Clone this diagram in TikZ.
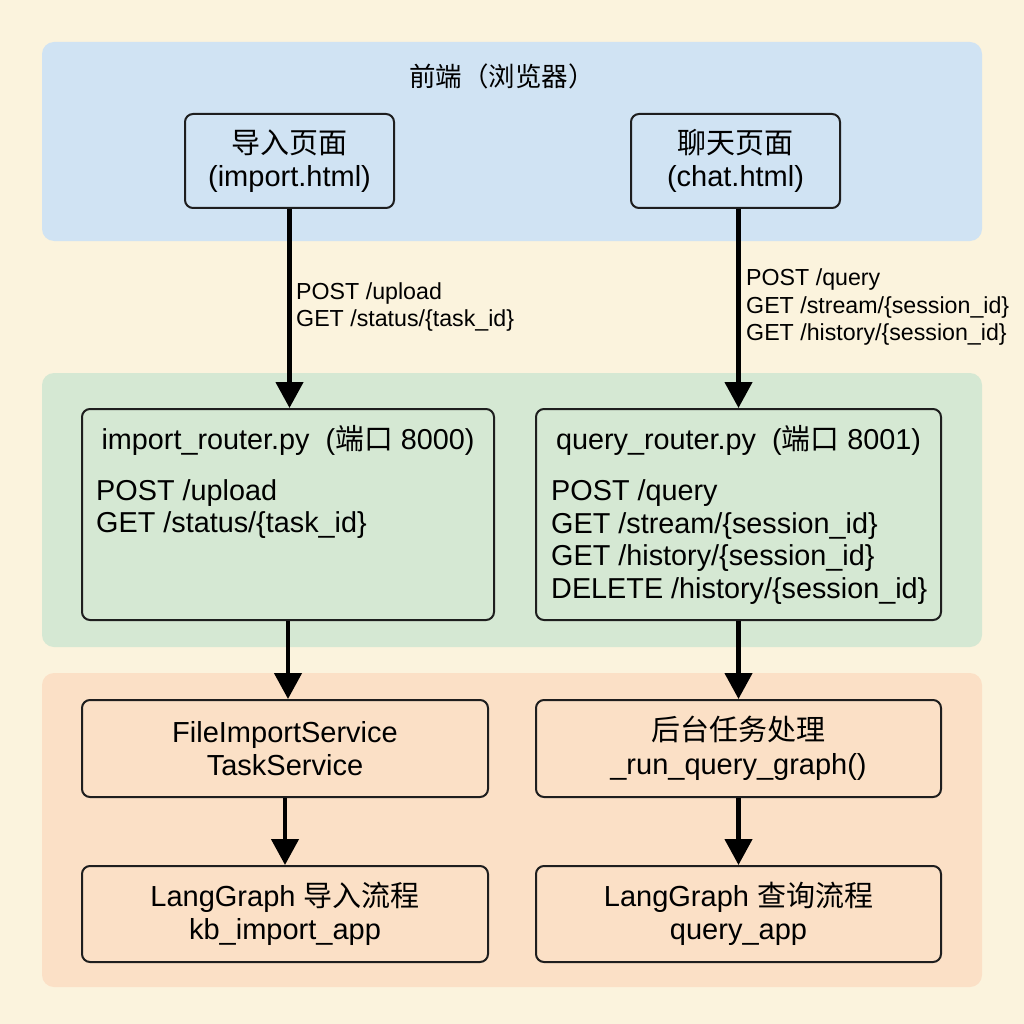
\documentclass[tikz,border=0pt]{standalone}
\usepackage{fontspec}
\setmainfont{Liberation Sans}
\newfontfamily\cjk{Noto Sans CJK SC}
\usetikzlibrary{arrows.meta}
\definecolor{bgc}{RGB}{251,243,221}
\definecolor{bluep}{RGB}{208,227,243}
\definecolor{greenp}{RGB}{213,232,211}
\definecolor{orangep}{RGB}{251,224,198}
\definecolor{edge}{RGB}{30,30,30}
\tikzset{
  panel/.style={rounded corners=12pt, draw=none},
  box/.style={draw=edge, line width=2pt, rounded corners=8pt, inner sep=0pt, align=center,
    font=\fontsize{29}{33.5}\selectfont, text=black},
  lbl/.style={inner sep=0pt, align=left, anchor=west, font=\fontsize{23.2}{27.5}\selectfont},
  inner/.style={inner sep=0pt, align=left, font=\fontsize{28.8}{32.7}\selectfont},
  flow/.style={line width=4.5pt, -{Triangle[length=26pt,width=27pt]}},
}
\begin{document}
\begin{tikzpicture}[x=1pt,y=-1pt]
\path[fill=bgc] (0,0) rectangle (1024,1024);
\useasboundingbox (0,0) rectangle (1024,1024);
% panels
\fill[panel, bluep] (42,42) rectangle (982,241);
\fill[panel, greenp] (42,373) rectangle (982,647);
\fill[panel, orangep] (42,673) rectangle (982,987);
% title
\node[inner sep=0pt, font=\fontsize{26.5}{30}\selectfont\cjk] (title) at (502,76) {前端（浏览器）};
% top boxes
\node[box, minimum width=209pt, minimum height=94pt] (imp) at (289.5,161) {{\cjk 导入页面}\\(import.html)};
\node[box, minimum width=209pt, minimum height=94pt] (chat) at (735.5,161) {{\cjk 聊天页面}\\(chat.html)};
% router boxes
\node[box, minimum width=412pt, minimum height=211pt] (ir) at (288,514.5) {};
\node[box, minimum width=405pt, minimum height=211pt] (qr) at (738.5,514.5) {};
\node[inner, anchor=center] (irt) at (288,440) {import\_router.py\ \ ({\cjk 端口} 8000)};
\node[inner, anchor=west] (irl) at (96,509) {POST /upload\\GET /status/\{task\_id\}};
\node[inner, anchor=center] (qrt) at (738.5,440) {query\_router.py\ \ ({\cjk 端口} 8001)};
\node[inner, anchor=west] (qrl) at (551,542) {POST /query\\GET /stream/\{session\_id\}\\GET /history/\{session\_id\}\\DELETE /history/\{session\_id\}};
% service boxes
\node[box, minimum width=406pt, minimum height=97pt] (fis) at (285,748.5) {FileImportService\\TaskService};
\node[box, minimum width=405pt, minimum height=97pt] (bg) at (738.5,748.5) {{\cjk 后台任务处理}\\\_run\_query\_graph()};
\node[box, minimum width=406pt, minimum height=96pt] (lgi) at (285,914) {LangGraph {\cjk 导入流程}\\kb\_import\_app};
\node[box, minimum width=405pt, minimum height=96pt] (lgq) at (738.5,914) {LangGraph {\cjk 查询流程}\\query\_app};
% arrows
\draw[flow] (imp.south) -- (imp.south |- ir.north);
\draw[flow] (chat.south -| qr.north) -- (qr.north);
\draw[flow] (ir.south) -- (ir.south |- fis.north);
\draw[flow] (qr.south) -- (bg.north);
\draw[flow] (fis.south) -- (lgi.north);
\draw[flow] (bg.south) -- (lgq.north);
% arrow labels
\node[lbl] (l1) at (296,307) {POST /upload\\GET /status/\{task\_id\}};
\node[lbl] (l2) at (746,307) {POST /query\\GET /stream/\{session\_id\}\\GET /history/\{session\_id\}};
\end{tikzpicture}
\end{document}
